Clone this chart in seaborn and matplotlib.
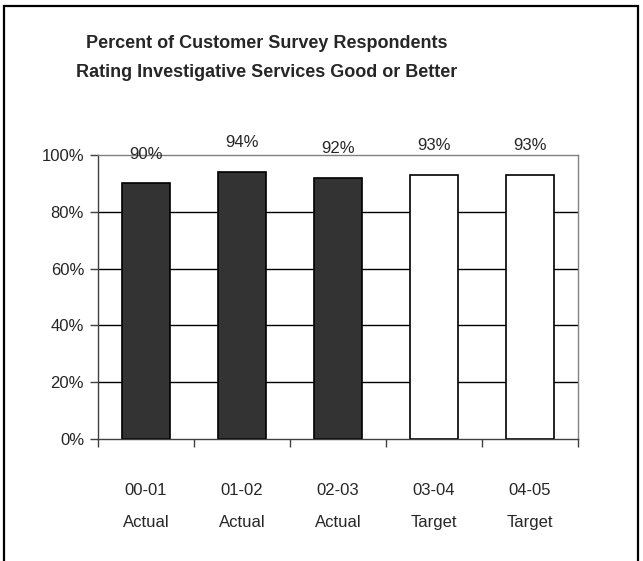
import matplotlib
matplotlib.use('Agg')
import matplotlib.pyplot as plt
import seaborn as sns
import pandas as pd
from matplotlib.patches import Rectangle
from matplotlib.ticker import FixedLocator, PercentFormatter

# Data
years = ['00-01', '01-02', '02-03', '03-04', '04-05']
kinds = ['Actual', 'Actual', 'Actual', 'Target', 'Target']
percents = [90, 94, 92, 93, 93]

df = pd.DataFrame({'year': years, 'kind': kinds, 'pct': percents})
df['label'] = df['year'] + '\n' + df['kind']

sns.set_style('white')
plt.rcParams['font.family'] = ['Liberation Sans', 'DejaVu Sans']

fig = plt.figure(figsize=(6.43, 5.61), dpi=100)
ax = fig.add_axes([0.1524, 0.2175, 0.7465, 0.5062])

sns.barplot(data=df, x='label', y='pct', hue='kind',
            palette={'Actual': '#333333', 'Target': 'white'},
            dodge=False, width=0.5, edgecolor='black', linewidth=1.2,
            legend=False, ax=ax)

ax.set_ylim(0, 100)
ax.set_xlim(-0.5, len(years) - 0.5)
ax.set_yticks([0, 20, 40, 60, 80, 100])
ax.yaxis.set_major_formatter(PercentFormatter(decimals=0))
ax.set_xlabel('')
ax.set_ylabel('')

# gridlines
for yv in [20, 40, 60, 80]:
    ax.axhline(yv, color='black', lw=1, zorder=0)

# spines: plot area border in gray, left/bottom axes dark
for side in ['top', 'right']:
    ax.spines[side].set_color('#808080')
    ax.spines[side].set_linewidth(1)
for side in ['left', 'bottom']:
    ax.spines[side].set_color('#404040')
    ax.spines[side].set_linewidth(1)

# tick marks at category boundaries, labels at centres
ax.xaxis.set_major_locator(FixedLocator([i - 0.5 for i in range(len(years) + 1)]))
ax.set_xticklabels([''] * (len(years) + 1))
ax.xaxis.set_minor_locator(FixedLocator(list(range(len(years)))))
ax.set_xticklabels(df['label'], minor=True, fontsize=12, linespacing=2.4)
ax.tick_params(axis='x', which='major', direction='out', length=6, width=1,
               color='#404040', bottom=True)
ax.tick_params(axis='x', which='minor', length=0, pad=32)
ax.tick_params(axis='y', direction='out', length=6, width=1, color='#404040',
               left=True, labelsize=12, pad=4)

# value labels above bars
for i, v in enumerate(percents):
    ax.annotate(f'{v}%', (i, v), xytext=(0, 21), textcoords='offset points',
                ha='center', va='center', fontsize=12, annotation_clip=False)

fig.text(0.415, 0.897,
         'Percent of Customer Survey Respondents\nRating Investigative Services Good or Better',
         ha='center', va='center', fontsize=13, fontweight='bold', linespacing=1.9)

# outer frame (bottom edge cut off in the reference)
fig.patches.append(Rectangle((4 / 643, -0.05), 634 / 643, 1 - 6 / 561 + 0.05,
                             transform=fig.transFigure, fill=False,
                             edgecolor='black', lw=1.6))

fig.savefig('out.png', dpi=100)
